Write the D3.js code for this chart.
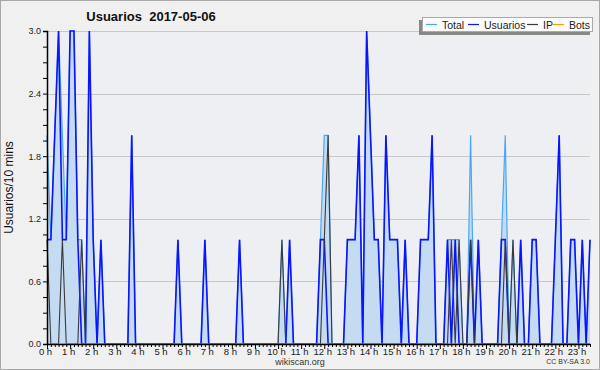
<!DOCTYPE html>
<html>
<head>
<meta charset="utf-8">
<script src="https://cdn.jsdelivr.net/npm/d3@7"></script>
<style>
  body { margin: 0; background: #fff; }
  svg { display: block; font-family: "Liberation Sans", Arial, sans-serif; }
</style>
</head>
<body>
<div id="chart"></div>
<script>
// 10-minute slots, one row per hour (00:00 .. 23:30)
const usuarios = [
  1,1,2,3,1,1,  3,3,1,0,0,3,  1,0,1,0,0,0,  0,0,0,0,2,0,
  0,0,0,0,0,0,  0,0,0,0,1,0,  0,0,0,0,0,1,  0,0,0,0,0,0,
  0,0,1,0,0,0,  0,0,0,0,0,0,  0,0,0,1,0,0,  0,0,0,0,0,1,
  1,0,0,0,0,0,  1,1,1,2,0,3,  2,1,1,0,2,1,  1,1,0,1,0,0,
  0,1,1,1,2,0,  0,0,1,0,1,0,  0,0,1,0,1,0,  0,0,0,0,1,1,
  0,0,0,1,0,0,  1,1,0,0,0,0,  1,2,0,0,1,1,  0,1,0,1
];
const ip = [
  1,0,0,0,1,0,  0,0,0,1,0,0,  0,0,0,0,0,0,  0,0,0,0,0,0,
  0,0,0,0,0,0,  0,0,0,0,0,0,  0,0,0,0,0,0,  0,0,0,0,0,0,
  0,0,0,0,0,0,  0,0,0,0,0,0,  0,1,0,0,0,0,  0,0,0,0,0,0,
  1,2,0,0,0,0,  0,0,0,0,0,0,  0,0,0,0,0,0,  0,0,0,0,0,0,
  0,0,0,0,0,0,  0,0,0,1,0,1,  0,0,1,0,0,0,  0,0,0,0,0,1,
  0,1,0,0,0,0,  0,0,0,0,0,0,  0,0,0,0,0,0,  0,0,0,0
];
const total = [
  2,1,2,3,2,1,  3,3,1,1,0,3,  1,0,1,0,0,0,  0,0,0,0,2,0,
  0,0,0,0,0,0,  0,0,0,0,1,0,  0,0,0,0,0,1,  0,0,0,0,0,0,
  0,0,1,0,0,0,  0,0,0,0,0,0,  0,1,0,1,0,0,  0,0,0,0,0,1,
  2,2,0,0,0,0,  1,1,1,2,0,3,  2,1,1,0,2,1,  1,1,0,1,0,0,
  0,1,1,1,2,0,  0,0,1,1,1,1,  0,0,2,0,1,0,  0,0,0,0,1,2,
  0,1,0,1,0,0,  1,1,0,0,0,0,  1,2,0,0,1,1,  0,1,0,1
];
const bots = [
  0,0,0,0,0,0,  0,0,0,0,0,0,  0,0,0,0,0,0,  0,0,0,0,0,0,
  0,0,0,0,0,0,  0,0,0,0,0,0,  0,0,0,0,0,0,  0,0,0,0,0,0,
  0,0,0,0,0,0,  0,0,0,0,0,0,  0,0,0,0,0,0,  0,0,0,0,0,0,
  0,0,0,0,0,0,  0,0,0,0,0,0,  0,0,0,0,0,0,  0,0,0,0,0,0,
  0,0,0,0,0,0,  0,0,0,0,0,0,  0,0,0,0,0,0,  0,0,0,0,0,0,
  0,0,0,0,0,0,  0,0,0,0,0,0,  0,0,0,0,0,0,  0,0,0,0
];
const hourLabels = d3.range(24).map(h => h + " h");
const yTicks = [0, 0.6, 1.2, 1.8, 2.4, 3.0];

const width = 600, height = 370;
const margin = {top: 31, right: 10, bottom: 26, left: 47};

const svg = d3.select("#chart").append("svg")
    .attr("width", width)
    .attr("height", height);

svg.append("rect")
    .attr("x", 0.5).attr("y", 0.5)
    .attr("width", width - 1).attr("height", height - 1)
    .attr("fill", "#f0f0f0")
    .attr("stroke", "#a8a8a8");

svg.append("rect")
    .attr("x", margin.left).attr("y", margin.top)
    .attr("width", width - margin.left - margin.right)
    .attr("height", height - margin.top - margin.bottom)
    .attr("fill", "#edeff2");

const x = d3.scaleLinear()
    .domain([0, usuarios.length - 1])
    .range([margin.left, width - margin.right]);

const y = d3.scaleLinear()
    .domain([0, 3])
    .range([height - margin.bottom, margin.top]);

// grid
svg.append("g")
    .selectAll("line")
    .data(yTicks.slice(1))
    .join("line")
    .attr("x1", margin.left).attr("x2", width - margin.right)
    .attr("y1", d => Math.round(y(d)) + 0.5)
    .attr("y2", d => Math.round(y(d)) + 0.5)
    .attr("stroke", "#c8c8c8");

const area = d3.area()
    .x((d, i) => x(i))
    .y0(y(0))
    .y1(d => y(d));

const line = d3.line()
    .x((d, i) => x(i))
    .y(d => y(d));

svg.append("path")
    .attr("d", area(total))
    .attr("fill", "#c4dbf1");

svg.append("path")
    .attr("d", line(total))
    .attr("fill", "none")
    .attr("stroke", "#4ba7f5")
    .attr("stroke-width", 1.2);

svg.append("path")
    .attr("d", line(usuarios))
    .attr("fill", "none")
    .attr("stroke", "#0a14ff")
    .attr("stroke-width", 1.6);

svg.append("path")
    .attr("d", line(ip))
    .attr("fill", "none")
    .attr("stroke", "#3a3a3a")
    .attr("stroke-width", 1.1);

svg.append("path")
    .attr("d", line(bots))
    .attr("fill", "none")
    .attr("stroke", "#ff9a00")
    .attr("stroke-width", 1);

// x axis
const xAxis = d3.axisBottom(x)
    .tickValues(d3.range(usuarios.length))
    .tickSize(0)
    .tickFormat("");

const gx = svg.append("g")
    .attr("transform", `translate(0,${y(0)})`)
    .call(xAxis);
gx.select(".domain").attr("stroke", "#000").attr("stroke-width", 1.5);
gx.selectAll(".tick line")
    .attr("stroke", "#000")
    .attr("y2", d => d % 6 === 0 ? 5 : 3);

svg.append("g")
    .selectAll("text")
    .data(hourLabels)
    .join("text")
    .attr("x", (d, i) => x(i * 6) - 1.5)
    .attr("y", 355)
    .attr("text-anchor", "middle")
    .attr("font-size", 9.5)
    .attr("fill", "#222")
    .text(d => d);

// y axis
const yAxis = d3.axisLeft(y)
    .tickValues(d3.range(0, 3.01, 0.15))
    .tickSize(4)
    .tickFormat(d => yTicks.some(t => Math.abs(t - d) < 1e-6) ? d3.format(".1f")(d) : "");

const gy = svg.append("g")
    .attr("transform", `translate(${margin.left},0)`)
    .call(yAxis);
gy.select(".domain").attr("stroke", "#000").attr("stroke-width", 1.5);
gy.selectAll(".tick line").attr("stroke", "#000");
gy.selectAll(".tick text")
    .attr("font-size", 9)
    .attr("fill", "#222")
    .attr("x", -6)
    .style("font-family", "Liberation Sans");

svg.append("text")
    .attr("transform", `translate(13,${(margin.top + y(0)) / 2}) rotate(-90)`)
    .attr("text-anchor", "middle")
    .attr("font-size", 12)
    .attr("fill", "#111")
    .text("Usuarios/10 mins");

// title
svg.append("text")
    .attr("x", 151).attr("y", 21)
    .attr("text-anchor", "middle")
    .attr("font-size", 13)
    .attr("font-weight", "bold")
    .attr("fill", "#111")
    .attr("xml:space", "preserve")
    .text("Usuarios  2017-05-06");

// legend
const legendItems = [
  {name: "Total", color: "#4ba7f5"},
  {name: "Usuarios", color: "#0a14ff"},
  {name: "IP", color: "#3a3a3a"},
  {name: "Bots", color: "#ff9a00"}
];
const legendX = [426, 468, 527, 553];
const legend = svg.append("g");
legend.append("rect")
    .attr("x", 419).attr("y", 20).attr("width", 171).attr("height", 15)
    .attr("fill", "#888");
legend.append("rect")
    .attr("x", 422.5).attr("y", 17.5).attr("width", 170).attr("height", 14)
    .attr("fill", "#fcfcfc").attr("stroke", "#aaa");
legend.selectAll("g.item")
    .data(legendItems)
    .join("g")
    .attr("class", "item")
    .each(function(d, i) {
      const g = d3.select(this);
      g.append("line")
          .attr("x1", legendX[i]).attr("x2", legendX[i] + 11)
          .attr("y1", 24.5).attr("y2", 24.5)
          .attr("stroke", d.color).attr("stroke-width", 1.2);
      g.append("text")
          .attr("x", legendX[i] + 16).attr("y", 28.5)
          .attr("font-size", 10.5)
          .attr("fill", "#222")
          .text(d.name);
    });

svg.append("text")
    .attr("x", 300).attr("y", 365)
    .attr("text-anchor", "middle")
    .attr("font-size", 9)
    .attr("fill", "#333")
    .text("wikiscan.org");

svg.append("text")
    .attr("x", 590).attr("y", 364)
    .attr("text-anchor", "end")
    .attr("font-size", 7)
    .attr("fill", "#333")
    .text("CC BY-SA 3.0");
</script>
</body>
</html>
